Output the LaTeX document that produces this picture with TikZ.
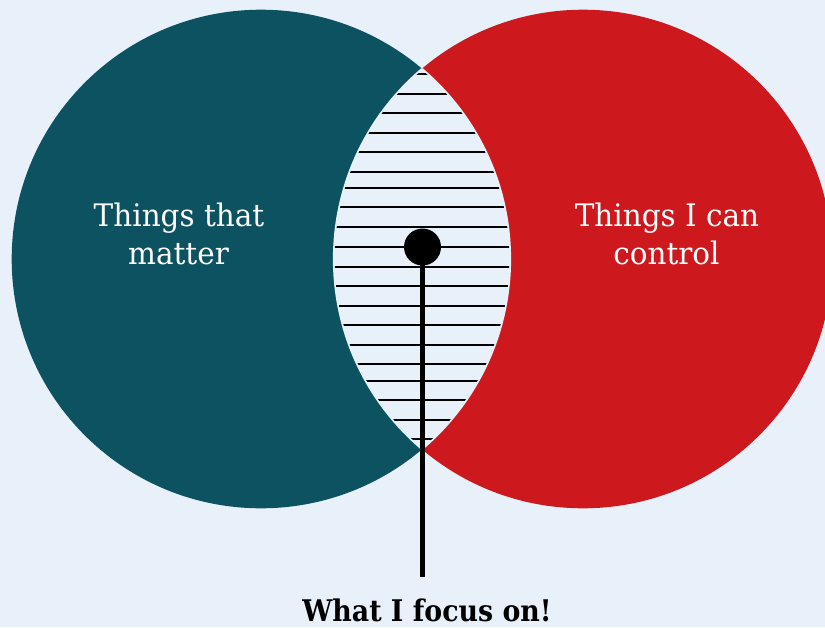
\documentclass[tikz,border=0pt]{standalone}
\usepackage{fontspec}
\setmainfont[FakeStretch=0.95]{DejaVu Serif}
\newfontfamily\labelbold[FakeStretch=0.9]{DejaVu Serif Bold}
\definecolor{pagebg}{RGB}{232,241,249}
\definecolor{mattercol}{RGB}{13,82,97}
\definecolor{controlcol}{RGB}{205,24,29}
\begin{document}
\begin{tikzpicture}[x=1pt,y=-1pt,
  circtext/.style={text=white,font=\fontsize{31}{37}\selectfont,anchor=base,inner sep=0pt},
  hatchline/.style={black,line width=2.2pt},
  gapline/.style={pagebg,line width=1.6pt}]
  % page
  \fill[pagebg] (0,0) rectangle (825,627);
  \useasboundingbox (0,0) rectangle (825,627);
  % the two sets
  \def\rad{249.3}
  \fill[mattercol] (261,259) circle[radius=\rad];
  \fill[controlcol] (583,259) circle[radius=\rad];
  % overlap region, left in the page colour
  \begin{scope}
    \clip (261,259) circle[radius=\rad];
    \fill[pagebg] (583,259) circle[radius=\rad];
    \draw[gapline] (583,259) circle[radius=\rad];
  \end{scope}
  \begin{scope}
    \clip (583,259) circle[radius=\rad];
    \draw[gapline] (261,259) circle[radius=\rad];
  \end{scope}
  % horizontal hatching inside the overlap
  \begin{scope}
    \clip (261,259) circle[radius=248.3];
    \clip (583,259) circle[radius=248.3];
    \foreach \yy in {74,94,113,133,152,172,188,207,227,247,267,286,306,325,345,364,381,400,420,439}
      \draw[hatchline] (320,\yy) -- (530,\yy);
  \end{scope}
  % set labels
  \node[circtext] (m1) at (179,226.7) {Things that};
  \node[circtext] (m2) at (178.5,264) {matter};
  \node[circtext] (c1) at (667,226) {Things I can};
  \node[circtext] (c2) at (666.5,264) {control};
  % pointer
  \node[circle,fill=black,minimum size=37pt,inner sep=0pt] (dot) at (422.5,247) {};
  \coordinate (stemend) at (422.5,577);
  \draw[black,line width=5.3pt] (dot.center) -- (stemend);
  \node[anchor=base,inner sep=0pt,font=\labelbold\fontsize{29.8}{34}\selectfont] (focus) at (427,621) {What I focus on!};
\end{tikzpicture}
\end{document}
